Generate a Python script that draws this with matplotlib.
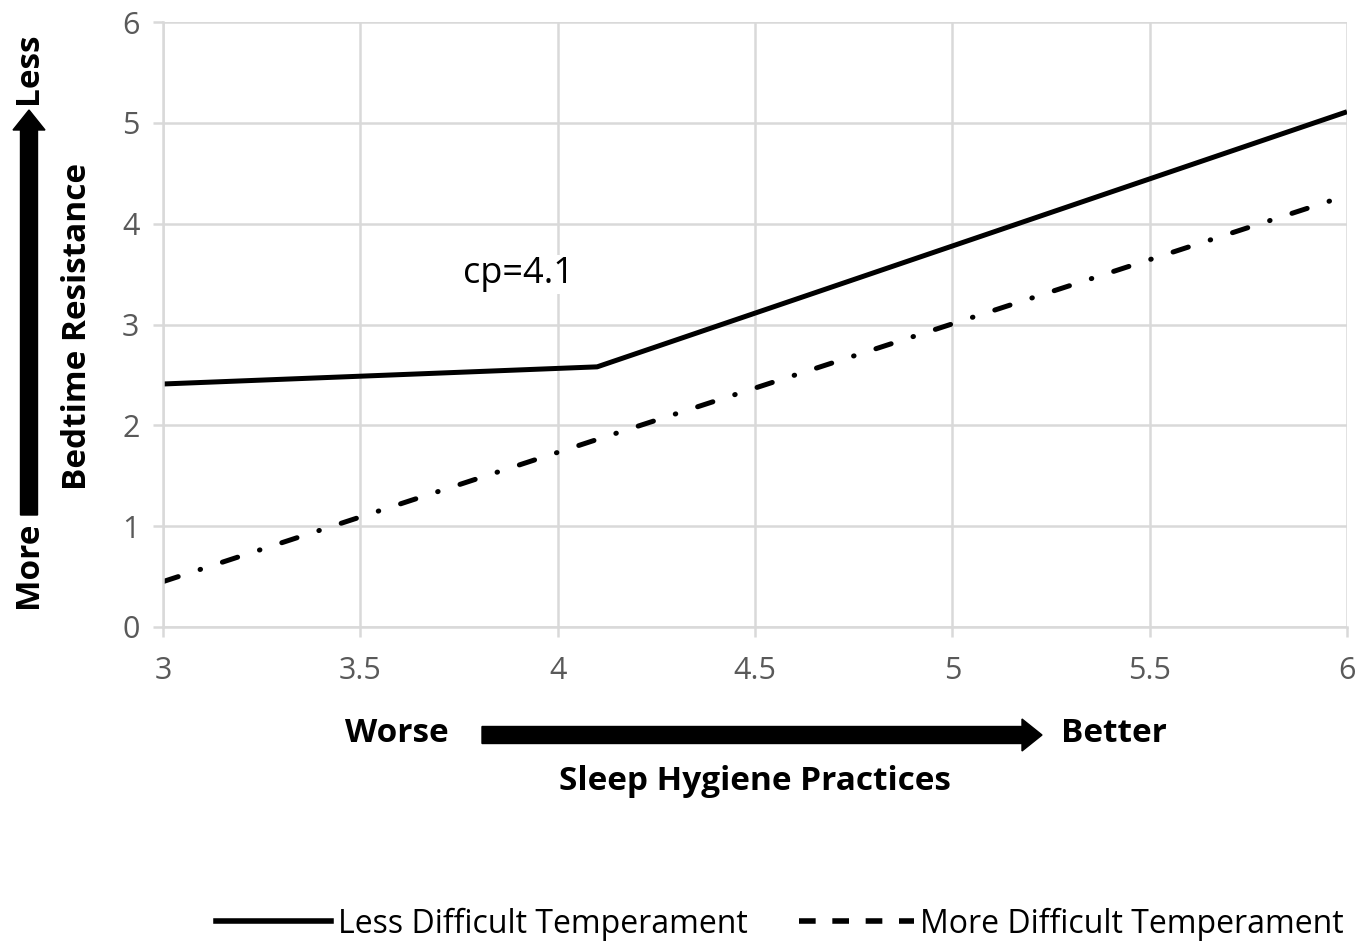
import matplotlib.pyplot as plt
from matplotlib.lines import Line2D
from matplotlib.patches import FancyArrow
from matplotlib.transforms import IdentityTransform

plt.rcParams['font.family'] = ['Open Sans', 'DejaVu Sans']

# data
hygiene = [3, 4.1, 6]
less_difficult = [2.41, 2.58, 5.11]
more_difficult = [0.45, 1.86, 4.28]
x_ticks = [3, 3.5, 4, 4.5, 5, 5.5, 6]
y_ticks = [0, 1, 2, 3, 4, 5, 6]
series_names = ['Less Difficult Temperament', 'More Difficult Temperament']

W, H = 1371, 944
fig = plt.figure(figsize=(W / 100, H / 100), dpi=100)
ax = fig.add_axes([163 / W, 1 - 627 / H, (1347 - 163) / W, (627 - 22) / H])

grid_c = '#d9d9d9'
ax.plot(hygiene, less_difficult, color='black', lw=3.6, solid_capstyle='butt')
ax.plot(hygiene, more_difficult, color='black', lw=3.6, dashes=(3.2, 4.6, 0.1, 4.6),
        dash_capstyle='round')

ax.set_xlim(3, 6)
ax.set_ylim(0, 6)
ax.set_xticks(x_ticks)
ax.set_xticklabels([('%g' % v) for v in x_ticks])
ax.set_yticks(y_ticks)
ax.grid(True, color=grid_c, lw=1.8)
ax.set_axisbelow(True)
for s in ['top', 'right']:
    ax.spines[s].set_visible(False)
for s in ['left', 'bottom']:
    ax.spines[s].set_color(grid_c)
    ax.spines[s].set_linewidth(1.8)
ax.tick_params(colors=grid_c, labelcolor='#595959', labelsize=22, length=7, width=1.8)
ax.tick_params(axis='x', pad=14)
ax.tick_params(axis='y', pad=10)

ax.text(3.9, 3.5, 'cp=4.1', fontsize=26, ha='center', va='center',
        bbox=dict(facecolor='white', edgecolor='none', pad=1))


def px(x, y):
    return x, H - y


ident = IdentityTransform()
# vertical arrow
x0, y0 = px(29, 515)
fig.patches.append(FancyArrow(x0, y0, 0, 515 - 110, width=17, head_width=32, head_length=20,
                              length_includes_head=True, color='black', transform=ident))
# horizontal arrow
x0, y0 = px(482, 735)
fig.patches.append(FancyArrow(x0, y0, 1042 - 482, 0, width=17, head_width=32, head_length=20,
                              length_includes_head=True, color='black', transform=ident))

bold = dict(fontsize=24, fontweight='bold', color='black')
fig.text(28 / W, 1 - 68 / H, 'Less', rotation=90, ha='center', va='center', **bold)
fig.text(28 / W, 1 - 565 / H, 'More', rotation=90, ha='center', va='center', **bold)
fig.text(78 / W, 1 - 327 / H, 'Bedtime Resistance', rotation=90, ha='center', va='center', **bold)
fig.text(397 / W, 1 - 733 / H, 'Worse', ha='center', va='center', **bold)
fig.text(1114 / W, 1 - 733 / H, 'Better', ha='center', va='center', **bold)
fig.text(755 / W, 1 - 781 / H, 'Sleep Hygiene Practices', ha='center', va='center', **bold)

handles = [Line2D([], [], color='black', lw=4),
           Line2D([], [], color='black', lw=4, dashes=(3, 3))]
fig.legend(handles, series_names, loc='center', bbox_to_anchor=(780 / W, 1 - 924 / H),
           ncol=2, frameon=False, fontsize=23, handlelength=3.6, handletextpad=0.2,
           columnspacing=1.6)

fig.savefig('out.png', dpi=100)
